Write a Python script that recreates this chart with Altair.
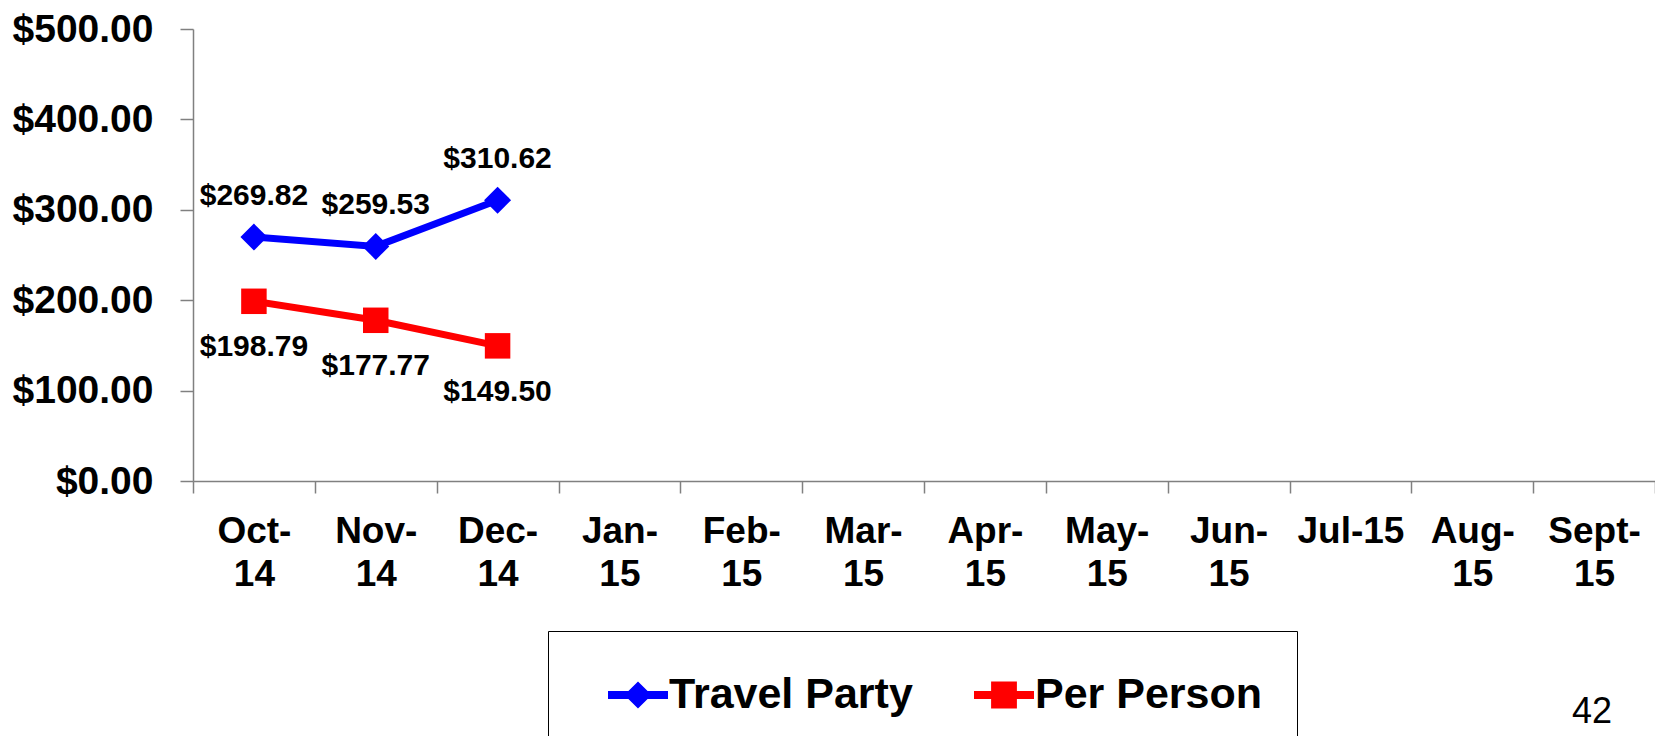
import altair as alt
import pandas as pd

months = ["Oct-14", "Nov-14", "Dec-14", "Jan-15", "Feb-15", "Mar-15",
          "Apr-15", "May-15", "Jun-15", "Jul-15", "Aug-15", "Sept-15"]
series_names = ["Travel Party", "Per Person"]
travel_party = [269.82, 259.53, 310.62]
per_person = [198.79, 177.77, 149.50]
y_ticks = [0, 100, 200, 300, 400, 500]
page_number = "42"

BLUE = "#0000FF"
RED = "#FF0000"
FONT = "Liberation Sans"

rows = []
for m, v in zip(months, travel_party):
    rows.append({"month": m, "series": "Travel Party", "value": v})
for m, v in zip(months, per_person):
    rows.append({"month": m, "series": "Per Person", "value": v})
df = pd.DataFrame(rows)

label_expr = ("datum.label == 'Jul-15' ? datum.label : "
              "[slice(datum.label, 0, indexof(datum.label, '-') + 1), "
              "slice(datum.label, indexof(datum.label, '-') + 1)]")

x_enc = alt.X(
    "month:N",
    sort=months,
    bandPosition=0.5,
    scale=alt.Scale(type="band", domain=months, paddingInner=0, paddingOuter=0),
    axis=alt.Axis(
        title=None, labelAngle=0, tickBand="extent", grid=False,
        labelExpr=label_expr, labelFont=FONT, labelFontWeight="bold",
        labelFontSize=37, labelColor="black", labelLineHeight=43,
        labelPadding=20, tickSize=12, domainColor="#808080", tickColor="#808080",
        domainWidth=1.5, tickWidth=1.5, labelAlign="center",
    ),
)
y_enc = alt.Y(
    "value:Q",
    scale=alt.Scale(domain=[0, 500], nice=False, zero=True),
    axis=alt.Axis(
        title=None, values=y_ticks, format="$.2f", grid=False,
        labelFont=FONT, labelFontWeight="bold", labelFontSize=39,
        labelColor="black", labelPadding=27, tickSize=13,
        domainColor="#808080", tickColor="#808080", domainWidth=1.5, tickWidth=1.5,
    ),
)

base = alt.Chart(df)

def series_layers(name, color, shape, size, dy):
    sub = base.transform_filter(alt.datum.series == name)
    line = sub.mark_line(color=color, strokeWidth=7).encode(x=x_enc, y=y_enc)
    pts = sub.mark_point(filled=True, color=color, shape=shape, size=size,
                         opacity=1, strokeWidth=0).encode(x=x_enc, y=y_enc)
    txt = sub.mark_text(font=FONT, fontWeight="bold", fontSize=30, color="black",
                        dy=dy).encode(x=x_enc, y=y_enc,
                                      text=alt.Text("value:Q", format="$.2f"))
    return [line, pts, txt]

legend_paths = [
    "M-1,-0.13L-0.32,-0.13L0,-0.45L0.32,-0.13L1,-0.13L1,0.13L0.32,0.13L0,0.45L-0.32,0.13L-1,0.13Z",
    "M-1,-0.13L-0.43,-0.13L-0.43,-0.45L0.43,-0.45L0.43,-0.13L1,-0.13L1,0.13L0.43,0.13L0.43,0.45L-0.43,0.45L-0.43,0.13L-1,0.13Z",
]

legend_layer = base.transform_filter("false").mark_point(filled=True, opacity=1).encode(
    color=alt.Color("series:N", scale=alt.Scale(domain=series_names, range=[BLUE, RED]),
                    legend=alt.Legend(title=None)),
    shape=alt.Shape("series:N", scale=alt.Scale(domain=series_names, range=legend_paths),
                    legend=alt.Legend(title=None)),
)

layers = (series_layers("Travel Party", BLUE, "diamond", 729, -41)
          + series_layers("Per Person", RED, "square", 650, 46)
          + [legend_layer])

chart = alt.layer(*layers).properties(
    width=1462,
    height=452,
    autosize=alt.AutoSizeParams(type="none"),
    padding={"left": 185, "top": 21, "right": 0, "bottom": 255},
    title=alt.TitleParams(
        page_number, orient="bottom", anchor="end", frame="group",
        font=FONT, fontSize=36, fontWeight="normal", color="black",
        dx=-43, offset=-57,
    ),
).configure_view(stroke=None).configure_legend(
    orient="none", legendX=355, legendY=602, direction="horizontal",
    strokeColor="black", strokeWidth=1, padding=34,
    labelFont=FONT, labelFontWeight="bold", labelFontSize=43, labelColor="black",
    labelLimit=0,
    symbolSize=3600, symbolStrokeWidth=0, symbolOpacity=1, symbolOffset=26,
    columnPadding=35, labelOffset=1, fillColor="white",
)

chart.save("out.html", embed_options={"renderer": "svg", "actions": False})
